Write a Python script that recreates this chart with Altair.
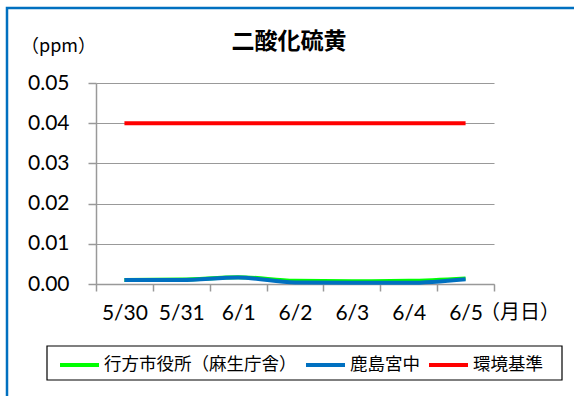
import altair as alt
import pandas as pd

dates = ["5/30", "5/31", "6/1", "6/2", "6/3", "6/4", "6/5"]
namegata = [0.0010, 0.0011, 0.0017, 0.0008, 0.0007, 0.0008, 0.0014]
kashima = [0.0010, 0.0010, 0.0016, 0.0004, 0.0003, 0.0003, 0.0012]
standard = [0.04, 0.04, 0.04, 0.04, 0.04, 0.04, 0.04]

series_names = ["行方市役所（麻生庁舎）", "鹿島宮中", "環境基準"]
series_colors = ["#00FF00", "#0070C0", "#FF0000"]
y_ticks = [0.0, 0.01, 0.02, 0.03, 0.04, 0.05]

title_text = "二酸化硫黄"
y_unit = "（ppm）"
x_unit = "（月日）"

rows = []
for name, vals in zip(series_names, [namegata, kashima, standard]):
    for d, v in zip(dates, vals):
        rows.append({"date": d, "series": name, "value": v})
df = pd.DataFrame(rows)
df["order"] = df["series"].map({"環境基準": 0, "行方市役所（麻生庁舎）": 1, "鹿島宮中": 2})

one = pd.DataFrame({"k": [0]})

W, H = 398, 201
JP = "Noto Sans CJK JP"
NUM = "Lato"

lines = alt.Chart(df).mark_line(strokeWidth=4, interpolate="monotone").encode(
    x=alt.X("date:O", sort=dates,
            scale=alt.Scale(type="band", paddingInner=0, paddingOuter=0),
            axis=alt.Axis(title=None, labelAngle=0, tickBand="extent",
                          tickSize=7, tickColor="#999999", domainColor="#999999",
                          labelFont=NUM, labelFontSize=21, labelColor="#000000",
                          labelPadding=11, grid=False, domainWidth=1.5, tickWidth=1.5)),
    y=alt.Y("value:Q",
            scale=alt.Scale(domain=[0, 0.05], nice=False),
            axis=alt.Axis(title=None, values=y_ticks, format=".2f",
                          tickSize=8, tickColor="#999999", domainColor="#999999",
                          gridColor="#999999", gridWidth=1.2,
                          labelFont=NUM, labelFontSize=21, labelColor="#000000",
                          labelPadding=19, domainWidth=1.5, tickWidth=1.5)),
    color=alt.Color("series:N", sort=series_names,
                    scale=alt.Scale(domain=series_names, range=series_colors),
                    legend=alt.Legend(title=None, orient="none", direction="horizontal",
                                      legendX=-38, legendY=260.5,
                                      symbolType="stroke", symbolSize=1521,
                                      symbolStrokeWidth=4, labelFont=JP,
                                      labelFontSize=17.5, labelColor="#000000",
                                      labelOffset=3, columnPadding=1,
                                      padding=0, labelLimit=400)),
    order=alt.Order("order:Q"),
    detail="series:N",
)

title_mark = alt.Chart(one).mark_text(font=JP, fontSize=23, fontWeight="bold",
                                      color="#000000").encode(
    x=alt.value(289 - 96), y=alt.value(42 - 83), text=alt.value(title_text))
yunit_mark = alt.Chart(one).mark_text(font=JP, fontSize=18, color="#000000",
                                      align="left").encode(
    x=alt.value(21 - 96), y=alt.value(47 - 83), text=alt.value(y_unit))
xunit_mark = alt.Chart(one).mark_text(font=JP, fontSize=20, color="#000000",
                                      align="left").encode(
    x=alt.value(480 - 96), y=alt.value(313 - 83), text=alt.value(x_unit))
border = alt.Chart(one).mark_rect(fill=None, stroke="#0070C0", strokeWidth=2.5).encode(
    x=alt.value(7 - 96), y=alt.value(8 - 83), x2=alt.value(620), y2=alt.value(400))
legend_box = alt.Chart(one).mark_rect(fill=None, stroke="#000000", strokeWidth=1.2).encode(
    x=alt.value(47 - 96), y=alt.value(346 - 83), x2=alt.value(562 - 96), y2=alt.value(380 - 83))

chart = alt.layer(border, legend_box, lines, title_mark, yunit_mark, xunit_mark).properties(
    width=W, height=H,
    autosize=alt.AutoSizeParams(type="none"),
    padding={"left": 96, "top": 83, "right": 80, "bottom": 113},
    background="white",
).configure_view(stroke=None)

chart.save("out.html", embed_options={"renderer": "svg", "actions": False})
